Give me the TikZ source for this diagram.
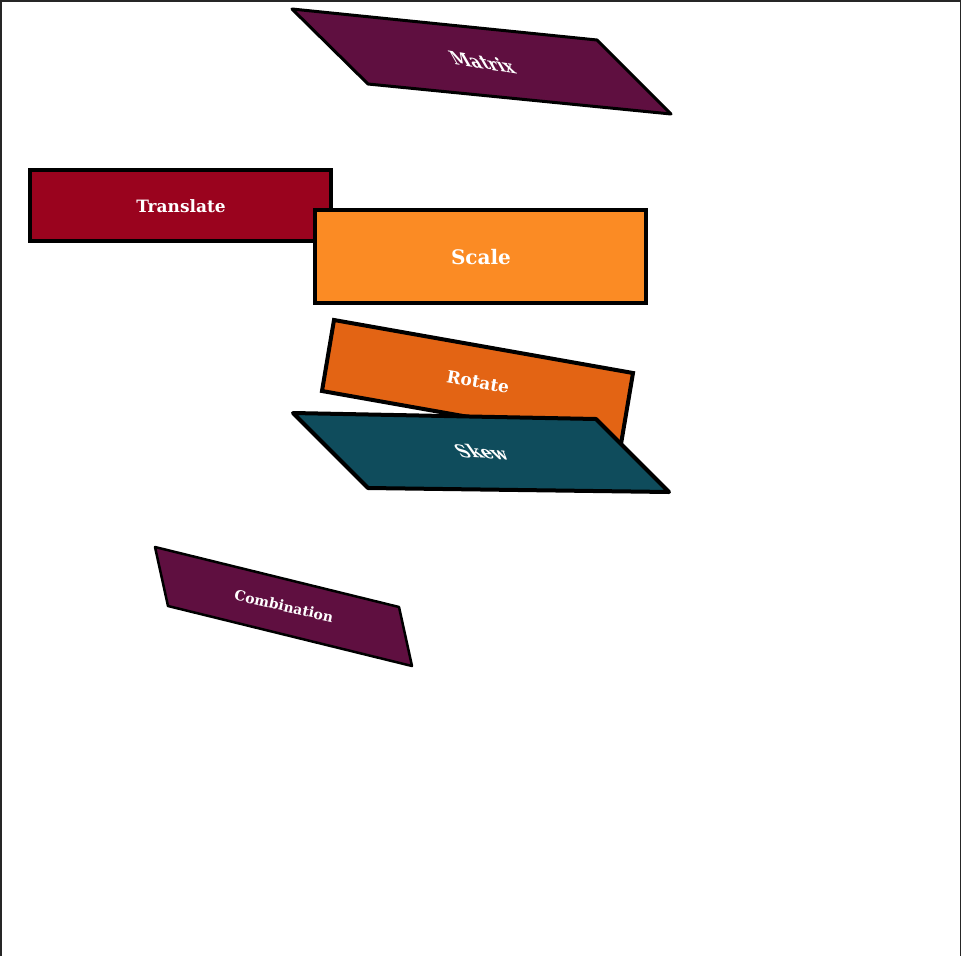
\documentclass[tikz,border=0pt]{standalone}
\usepackage{fontspec}
\setmainfont{DejaVu Serif}
\usepackage{tikz}
\usetikzlibrary{calc}
\definecolor{plum}{HTML}{5F0F40}
\definecolor{crimson}{HTML}{9A031E}
\definecolor{amber}{HTML}{FB8B24}
\definecolor{rust}{HTML}{E36414}
\definecolor{teal}{HTML}{0F4C5C}
\newcommand{\tileborder}{4pt}
\newcommand{\labelcolor}{white}

\begin{document}
\begin{tikzpicture}[x=1pt,y=-1pt]
\useasboundingbox (0,0) rectangle (961,956);
\fill[white] (0,0) rectangle (961,956);
\draw[black!85,line width=1.5pt] (0.75,956) -- (0.75,0.75) -- (960.25,0.75) -- (960.25,956);
%matrix
\draw[fill=plum,line width=3pt,line join=round] (292,9) -- (597,40) -- (671,114) -- (368,84) -- cycle;
\node[text=\labelcolor,font=\bfseries\fontsize{17}{20}\selectfont,rotate=-9,xslant=-0.8] (matrix) at (482,62) {Matrix};
%translate
\draw[fill=crimson,line width=\tileborder] (30,170) rectangle (331,241);
\node[text=\labelcolor,font=\bfseries\fontsize{17}{20}\selectfont] (translate) at (181,206) {Translate};
%scale
\draw[fill=amber,line width=\tileborder] (315,210) rectangle (646,303);
\node[text=\labelcolor,font=\bfseries\fontsize{20}{24}\selectfont] (scale) at (481,257) {Scale};
%rotate
\draw[fill=rust,line width=\tileborder,line join=miter] (334,320) -- (633,373) -- (621,444) -- (322,391) -- cycle;
\node[text=\labelcolor,font=\bfseries\fontsize{17}{20}\selectfont,rotate=-10] (rotate) at (478,382) {Rotate};
%skew
\draw[fill=teal,line width=\tileborder,line join=round] (293,413) -- (596,419) -- (669,492) -- (368,488) -- cycle;
\node[text=\labelcolor,font=\bfseries\fontsize{17}{20}\selectfont,rotate=-3,xslant=-0.8] (skew) at (481,452) {Skew};
%combination
\draw[fill=plum,line width=2.5pt,line join=round] (155,547) -- (399,607) -- (412,666) -- (168,606) -- cycle;
\node[text=\labelcolor,font=\bfseries\fontsize{14}{16}\selectfont,rotate=-13] (combination) at (284,606) {Combination};
\end{tikzpicture}
\end{document}
